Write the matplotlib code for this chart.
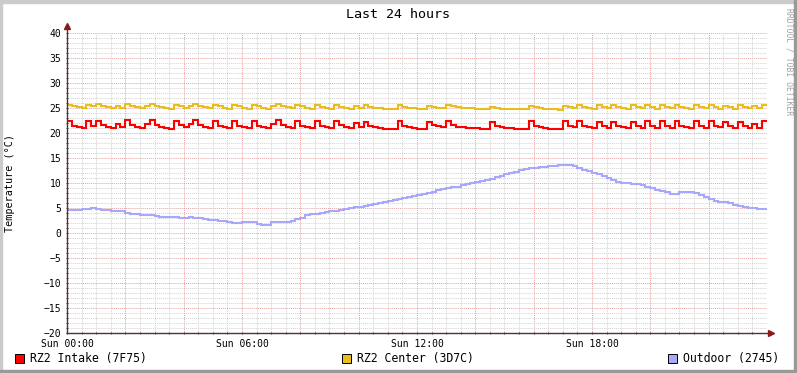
import numpy as np
import matplotlib
matplotlib.use("Agg")
import matplotlib.pyplot as plt
from matplotlib.patches import Rectangle

# 24 h of samples, one every 10 minutes
STEP_MIN = 10

intake = [
    22.4, 21.5, 21.2, 21.0, 22.4, 21.5, 22.5, 21.6, 21.2, 21.0, 21.9, 21.3,
    22.7, 21.7, 21.3, 21.1, 21.9, 22.7, 21.7, 21.3, 21.1, 20.9, 22.5, 21.6,
    21.2, 21.9, 22.6, 21.7, 21.3, 21.1, 22.4, 21.5, 21.2, 21.0, 22.4, 21.5,
    21.2, 21.0, 22.4, 21.5, 21.2, 21.0, 21.9, 22.6, 21.7, 21.3, 21.1, 22.4,
    21.5, 21.2, 21.0, 22.4, 21.5, 21.2, 21.0, 22.5, 21.6, 21.2, 21.0, 22.1,
    21.3, 22.3, 21.5, 21.2, 21.0, 20.9, 20.9, 20.8, 22.4, 21.5, 21.2, 21.0,
    20.9, 20.8, 22.3, 21.7, 21.5, 21.2, 22.4, 21.6, 21.3, 21.2, 21.1, 21.0,
    21.0, 20.9, 20.9, 22.2, 21.5, 21.3, 21.1, 21.0, 20.9, 20.8, 20.8, 22.4,
    21.5, 21.2, 21.0, 20.9, 20.9, 20.8, 22.4, 21.5, 21.2, 22.4, 21.5, 21.2,
    21.0, 22.3, 21.5, 21.1, 22.3, 21.5, 21.2, 21.0, 22.2, 21.4, 21.1, 22.4,
    21.5, 21.1, 22.4, 21.5, 21.1, 22.4, 21.5, 21.2, 21.0, 22.4, 21.5, 21.1,
    22.4, 21.5, 21.2, 22.2, 21.4, 21.1, 22.3, 21.5, 21.1, 21.9, 21.1, 22.5,
]

center = [
    25.6, 25.4, 25.2, 25.0, 25.7, 25.4, 25.8, 25.5, 25.2, 25.0, 25.4, 25.1,
    25.8, 25.5, 25.2, 25.0, 25.4, 25.9, 25.5, 25.2, 25.0, 24.8, 25.7, 25.4,
    25.1, 25.5, 25.8, 25.5, 25.2, 25.0, 25.7, 25.4, 25.1, 24.9, 25.7, 25.4,
    25.1, 24.9, 25.7, 25.4, 25.1, 24.9, 25.5, 25.9, 25.5, 25.2, 25.0, 25.7,
    25.4, 25.1, 24.9, 25.6, 25.3, 25.1, 24.9, 25.6, 25.3, 25.1, 24.9, 25.5,
    25.1, 25.6, 25.3, 25.1, 25.0, 24.9, 24.9, 24.8, 25.6, 25.3, 25.1, 25.0,
    24.9, 24.8, 25.5, 25.2, 25.1, 25.0, 25.7, 25.4, 25.2, 25.1, 25.0, 25.0,
    24.9, 24.9, 24.9, 25.3, 25.0, 24.9, 24.9, 24.8, 24.8, 24.8, 24.8, 25.5,
    25.2, 25.0, 24.9, 24.8, 24.8, 24.7, 25.5, 25.2, 25.0, 25.6, 25.3, 25.0,
    24.9, 25.6, 25.2, 25.0, 25.6, 25.3, 25.0, 24.9, 25.6, 25.2, 25.0, 25.6,
    25.2, 24.9, 25.6, 25.3, 25.0, 25.6, 25.2, 25.0, 24.8, 25.6, 25.3, 25.0,
    25.6, 25.2, 24.9, 25.5, 25.2, 24.9, 25.6, 25.2, 25.0, 25.4, 25.1, 25.6,
]

outdoor = [
    4.6, 4.6, 4.7, 4.9, 4.9, 5.0, 4.9, 4.7, 4.6, 4.5, 4.5, 4.5,
    4.1, 3.9, 3.8, 3.7, 3.6, 3.6, 3.4, 3.3, 3.3, 3.3, 3.2, 3.1,
    3.1, 3.2, 3.1, 3.0, 2.8, 2.7, 2.6, 2.5, 2.5, 2.2, 2.1, 2.1,
    2.3, 2.3, 2.2, 1.9, 1.7, 1.7, 2.2, 2.3, 2.3, 2.3, 2.4, 2.8,
    3.0, 3.6, 3.8, 3.9, 4.0, 4.2, 4.4, 4.5, 4.6, 4.8, 5.0, 5.2,
    5.3, 5.5, 5.7, 5.9, 6.1, 6.3, 6.5, 6.7, 6.9, 7.1, 7.3, 7.5,
    7.6, 7.8, 8.0, 8.3, 8.6, 8.8, 9.0, 9.2, 9.3, 9.6, 9.9, 10.1,
    10.3, 10.4, 10.6, 10.8, 11.2, 11.5, 11.8, 12.0, 12.3, 12.6, 12.8, 13.0,
    13.1, 13.3, 13.3, 13.4, 13.5, 13.6, 13.7, 13.7, 13.4, 13.0, 12.7, 12.4,
    12.0, 11.8, 11.4, 11.0, 10.6, 10.3, 10.1, 10.0, 9.9, 9.8, 9.6, 9.3,
    9.0, 8.7, 8.4, 8.2, 7.9, 7.9, 8.2, 8.3, 8.3, 8.1, 7.6, 7.2,
    6.8, 6.4, 6.2, 6.3, 6.0, 5.7, 5.5, 5.3, 5.1, 5.0, 4.9, 4.8,
]

series_names = ["RZ2 Intake (7F75)", "RZ2 Center (3D7C)", "Outdoor (2745)"]
series_colors = ["#FF0000", "#E8BE1E", "#A8A8FA"]

x_labels = ["Sun 00:00", "Sun 06:00", "Sun 12:00", "Sun 18:00"]
x_label_hours = [0, 6, 12, 18]

W, H = 797, 373
MONO = "DejaVu Sans Mono"
AXIS = "#4a3535"
ARROW = "#8b1a1a"

fig = plt.figure(figsize=(W / 100, H / 100), dpi=100)
fig.patch.set_facecolor("white")

# rrdtool style shaded border
for (x0, y0, w, h, c) in [(0, 1 - 3 / H, 1, 3 / H, "#CBCBCB"),
                          (0, 0, 2 / W, 1, "#CBCBCB"),
                          (1 - 3 / W, 0, 3 / W, 1, "#999999"),
                          (0, 0, 1, 3 / H, "#999999")]:
    fig.patches.append(Rectangle((x0, y0), w, h, transform=fig.transFigure,
                                 color=c, zorder=0))

ax = fig.add_axes([67 / W, (H - 333) / H, 700 / W, 300 / H])
ax.set_facecolor("white")
ax.set_xlim(0, 24)
ax.set_ylim(-20, 40)
for s in ax.spines.values():
    s.set_visible(False)

# grid
for v in range(-20, 41):
    major = v % 5 == 0
    ax.axhline(v, color="#e6a3a3" if major else "#d2d2d2", lw=0.7,
               ls=(0, (1, 1)), zorder=1)
for hr in np.arange(0.5, 24, 0.5):
    major = hr % 2 == 0
    ax.axvline(hr, color="#e6a3a3" if major else "#d2d2d2", lw=0.7,
               ls=(0, (1, 1)), zorder=1)

edges = np.arange(len(intake) + 1) * STEP_MIN / 60.0
for vals, col in zip([intake, center, outdoor], series_colors):
    ax.stairs(vals, edges, baseline=None, color=col, lw=1.5, zorder=3)

ax.set_xticks(x_label_hours)
ax.set_xticklabels(x_labels)
ax.set_xticks(np.arange(0, 24, 0.5), minor=True)
ax.set_yticks(range(-20, 41, 5))
ax.set_yticks(range(-20, 41), minor=True)
ax.tick_params(which="both", length=2, direction="inout", color=AXIS,
               width=0.7, labelsize=7, pad=3)
for lab in ax.get_xticklabels() + ax.get_yticklabels():
    lab.set_family(MONO)

# axes with arrows
ax.plot([0, 0], [-20, 41.2], color=AXIS, lw=1, clip_on=False, zorder=4)
ax.plot([0, 24.1], [-20, -20], color=AXIS, lw=1, clip_on=False, zorder=4)
ax.plot(0, 41.4, marker="^", ms=4, color=ARROW, clip_on=False, zorder=5)
ax.plot(24.15, -20, marker=">", ms=4, color=ARROW, clip_on=False, zorder=5)

fig.text(0.5, (H - 14) / H, "Last 24 hours", ha="center", va="center",
         fontsize=9.6, family=MONO)
fig.text(10 / W, (H - 183) / H, "Temperature (°C)", rotation=90,
         ha="center", va="center", fontsize=7.3, family=MONO)
fig.text(789 / W, (H - 8) / H, "RRDTOOL / TOBI OETIKER", rotation=270,
         ha="center", va="top", fontsize=5.8, family=MONO, color="#a0a0a0")

# legend
for name, col, sx in zip(series_names, series_colors, [15, 342, 668]):
    fig.patches.append(Rectangle((sx / W, (H - 363) / H), 9 / W, 9 / H,
                                 transform=fig.transFigure, fc=col,
                                 ec="black", lw=0.7))
    fig.text((sx + 15) / W, (H - 358.5) / H, name, va="center",
             fontsize=8.3, family=MONO)

fig.savefig("out.png", dpi=100)
